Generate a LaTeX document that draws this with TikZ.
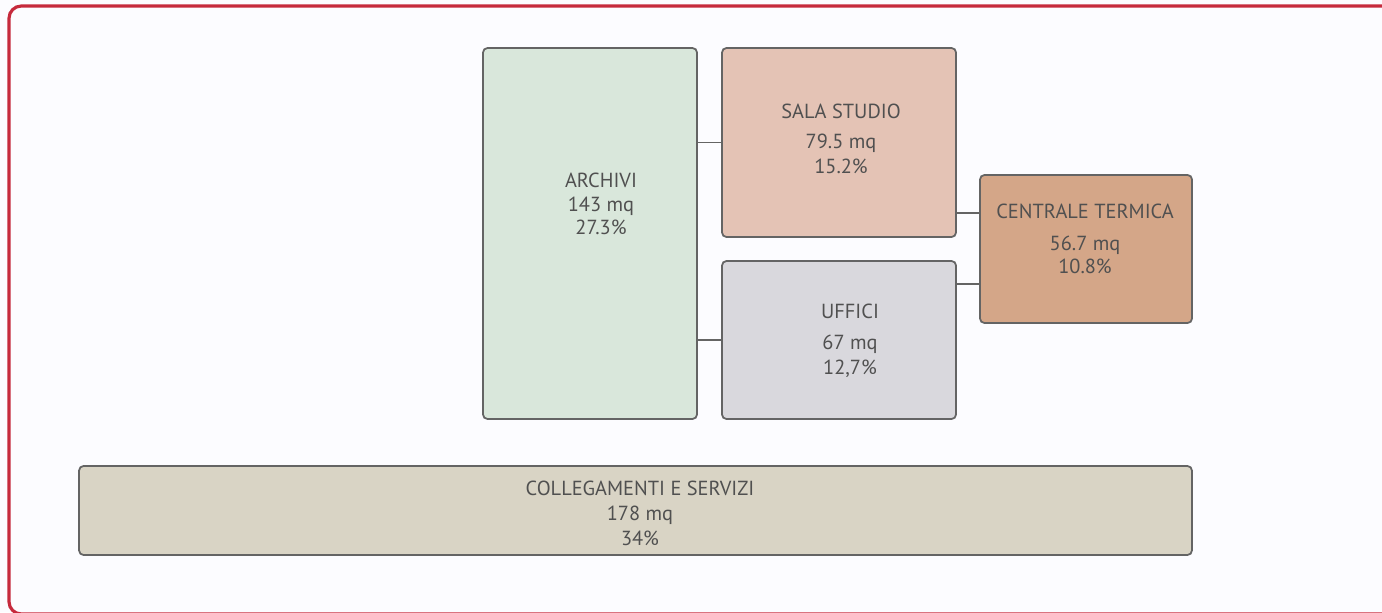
\documentclass[tikz,border=0pt]{standalone}
\usepackage{fontspec}
\setmainfont{PT Sans}

\definecolor{framered}{HTML}{C62A3C}
\definecolor{edgegray}{HTML}{646464}
\definecolor{textgray}{HTML}{505050}
\definecolor{archfill}{HTML}{D9E7DB}
\definecolor{salafill}{HTML}{E4C3B5}
\definecolor{uffifill}{HTML}{D9D8DD}
\definecolor{centfill}{HTML}{D4A688}
\definecolor{collfill}{HTML}{D9D4C5}

\tikzset{
	room/.style = {draw = edgegray, line width = 1pt, rounded corners = 2.5pt, inner sep = 0pt},
	roomtext/.style = {text = textgray, align = center, inner sep = 0pt, font = \fontsize{11.6}{13.5}\selectfont},
	link/.style = {draw = edgegray, line width = 1pt}
}

\begin{document}
\begin{tikzpicture}[x = 0.02cm, y = -0.02cm]
	\useasboundingbox[fill = white!99!blue] (0, 0) rectangle (1382, 612);
	\begin{scope}
		\clip (0, 0) rectangle (1382, 612);
		\draw[framered, line width = 1.8pt, rounded corners = 7pt] (9, 6) rectangle (1420, 614);
	\end{scope}
%%%%%%%%%%%
	\node[room, fill = archfill, minimum width = 4.28cm, minimum height = 7.42cm] (archivi) at (590, 233.5) {};
	\node[room, fill = salafill, minimum width = 4.68cm, minimum height = 3.78cm] (sala) at (839, 142.5) {};
	\node[room, fill = uffifill, minimum width = 4.68cm, minimum height = 3.16cm] (uffici) at (839, 340) {};
	\node[room, fill = centfill, minimum width = 4.24cm, minimum height = 2.96cm] (centrale) at (1086, 249) {};
	\node[room, fill = collfill, minimum width = 22.26cm, minimum height = 1.78cm] (collegamenti) at (635.5, 510.5) {};
%%%%%%%%%%%
	\node[roomtext] (archivi-txt) at (601, 204) {ARCHIVI\\143 mq\\27.3\%};
	\node[roomtext] (sala-txt) at (841, 139) {SALA STUDIO\\[3.5pt]79.5 mq\\[1pt]15.2\%};
	\node[roomtext] (uffici-txt) at (850, 341) {UFFICI\\[4pt]67 mq\\[0.7pt]12,7\%};
	\node[roomtext] (centrale-txt) at (1085, 239) {CENTRALE TERMICA\\[4.5pt]56.7 mq\\10.8\%};
	\node[roomtext] (collegamenti-txt) at (640, 513) {COLLEGAMENTI E SERVIZI\\[0.7pt]178 mq\\[0.7pt]34\%};
%%%%%%%%%%%
	\coordinate (upper) at (968, 213);
	\coordinate (lower) at (968, 284);
	\draw[link] (archivi.east |- sala.west) -- (sala.west);
	\draw[link] (archivi.east |- uffici.west) -- (uffici.west);
	\draw[link] (sala.east |- upper) -- (centrale.west |- upper);
	\draw[link] (uffici.east |- lower) -- (centrale.west |- lower);
\end{tikzpicture}
\end{document}
